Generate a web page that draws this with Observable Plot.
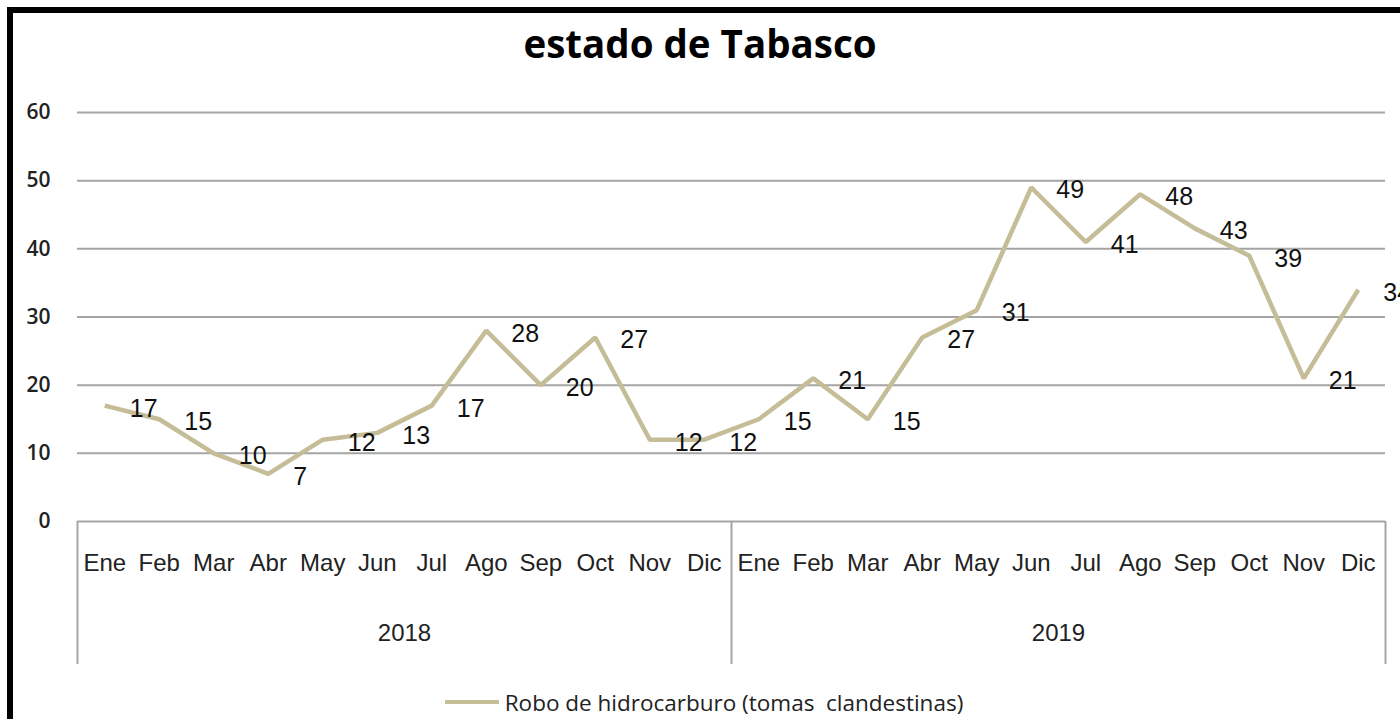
<!DOCTYPE html>
<html>
<head>
<meta charset="utf-8">
<script src="https://cdn.jsdelivr.net/npm/d3@7"></script>
<script src="https://cdn.jsdelivr.net/npm/@observablehq/plot@0.6"></script>
<style>
  html, body { margin: 0; padding: 0; background: #fff; overflow: hidden; width: 1400px; height: 719px; }
  #wrap { position: relative; width: 1400px; height: 719px; }
  #frame { position: absolute; left: 7px; top: 7px; right: -20px; bottom: -20px;
           border-top: 6px solid #000; border-left: 6px solid #000; pointer-events: none; }
  #title { height: 60px; padding-top: 25px; line-height: 37px; text-align: center;
           font-family: "Open Sans", sans-serif; font-weight: bold; font-size: 38.5px; color: #000; }
  #chart svg { display: block; overflow: visible; }
  #legend { display: flex; justify-content: center; align-items: center; height: 34px;
            font-family: "Open Sans", sans-serif; font-size: 22.5px; color: #222; padding-left: 8px; }
  #legend .sw { width: 54px; height: 4px; background: #C4BD97; margin-right: 6px; }
</style>
</head>
<body>
<div id="wrap">
  <div id="title">estado de Tabasco</div>
  <div id="chart"></div>
  <div id="legend"><span class="sw"></span><span>Robo de hidrocarburo (tomas&nbsp; clandestinas)</span></div>
  <div id="frame"></div>
</div>
<script>
const months = ["Ene","Feb","Mar","Abr","May","Jun","Jul","Ago","Sep","Oct","Nov","Dic"];
const years = ["2018", "2019"];
const values2018 = [17, 15, 10, 7, 12, 13, 17, 28, 20, 27, 12, 12];
const values2019 = [15, 21, 15, 27, 31, 49, 41, 48, 43, 39, 21, 34];
const yTicks = [0, 10, 20, 30, 40, 50, 60];
const seriesName = "Robo de hidrocarburo (tomas clandestinas)";
const lineColor = "#C4BD97";

const data = [];
[values2018, values2019].forEach((vals, yi) => {
  vals.forEach((v, mi) => data.push({idx: yi * 12 + mi, year: years[yi], month: months[mi], value: v}));
});
const monthRows = data.map(d => ({pos: d.idx + 0.5, label: d.month}));
const yearRows = years.map((y, i) => ({pos: i * 12 + 6, label: y}));
const yearBounds = [0, 12, 24];

const chart = Plot.plot({
  width: 1400,
  height: 600,
  marginTop: 27,
  marginBottom: 164,
  marginLeft: 77,
  marginRight: 15,
  x: {domain: [0, 24], axis: null},
  y: {domain: [0, 60], axis: null},
  marks: [
    Plot.ruleY(yTicks, {stroke: "#a5a5a5", strokeWidth: 2}),
    Plot.axisY({ticks: yTicks, tickSize: 0, tickPadding: 27, fontSize: 21, fontWeight: 600,
                fontFamily: "Open Sans, sans-serif", fill: "#222", label: null}),
    Plot.axisX({ticks: yearBounds, tickSize: 143, tickFormat: () => "", stroke: "#a5a5a5", strokeWidth: 2, label: null}),
    Plot.text(monthRows, {x: "pos", text: "label", frameAnchor: "bottom", dy: 42, lineAnchor: "middle",
                          fontSize: 24, fontFamily: "Liberation Sans, Arial, sans-serif", fill: "#222"}),
    Plot.text(yearRows, {x: "pos", text: "label", frameAnchor: "bottom", dy: 112, lineAnchor: "middle",
                         fontSize: 24, fontFamily: "Liberation Sans, Arial, sans-serif", fill: "#222"}),
    Plot.line(data, {x: d => d.idx + 0.5, y: "value", stroke: lineColor, strokeWidth: 4.5,
                     strokeLinejoin: "miter", strokeLinecap: "butt"}),
    Plot.text(data, {x: d => d.idx + 0.5, y: "value", text: d => String(d.value), textAnchor: "start",
                     dx: 25, dy: 3, fontSize: 25, fontFamily: "Liberation Sans, Arial, sans-serif", fill: "#111"})
  ]
});
document.getElementById("chart").appendChild(chart);
</script>
</body>
</html>
